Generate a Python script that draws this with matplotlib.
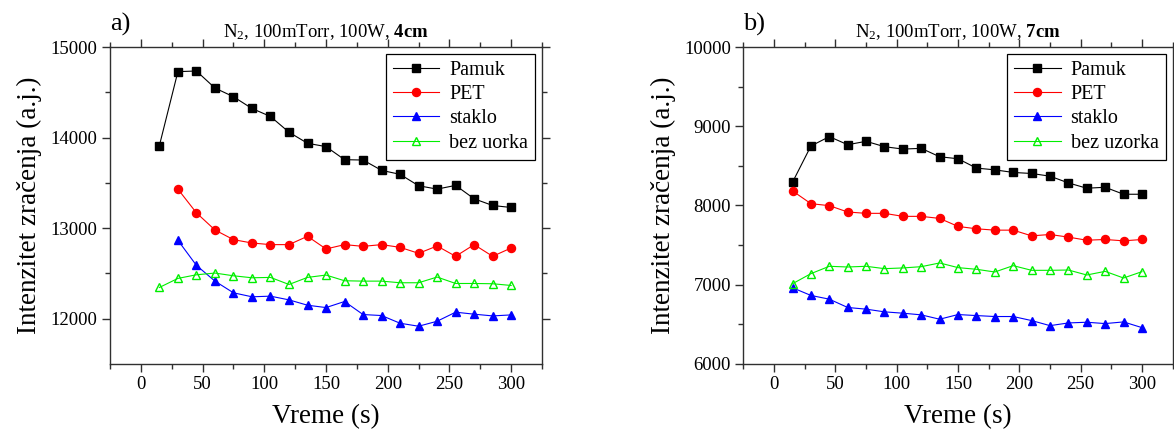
import matplotlib
matplotlib.use("Agg")
import matplotlib.pyplot as plt
from matplotlib.ticker import MultipleLocator

plt.rcParams['font.family'] = ['Liberation Serif', 'DejaVu Serif']
plt.rcParams['mathtext.fontset'] = 'custom'
plt.rcParams['mathtext.rm'] = 'Liberation Serif'
plt.rcParams['mathtext.it'] = 'Liberation Serif:italic'
plt.rcParams['mathtext.bf'] = 'Liberation Serif:bold'

# vreme (s)
t15 = [15, 30, 45, 60, 75, 90, 105, 120, 135, 150,
       165, 180, 195, 210, 225, 240, 255, 270, 285, 300]
t30 = t15[1:]

# a) 4cm
a_pamuk = [13911, 14728, 14735, 14547, 14451, 14321, 14233, 14059, 13937, 13900,
           13756, 13752, 13638, 13594, 13468, 13431, 13472, 13324, 13250, 13228]
a_pet = [13431, 13169, 12980, 12873, 12836, 12818, 12818, 12910, 12770, 12818,
         12799, 12818, 12788, 12722, 12803, 12689, 12818, 12689, 12781]
a_staklo = [12866, 12589, 12415, 12286, 12242, 12249, 12208, 12149, 12123, 12190,
            12046, 12035, 11950, 11917, 11972, 12072, 12050, 12031, 12042]
a_bez = [12345, 12445, 12485, 12504, 12474, 12452, 12456, 12378, 12456, 12482,
         12419, 12415, 12415, 12397, 12397, 12460, 12389, 12389, 12386, 12367]

# b) 7cm
b_pamuk = [8294, 8751, 8869, 8767, 8810, 8742, 8712, 8721, 8615, 8590,
           8472, 8450, 8417, 8404, 8370, 8285, 8218, 8230, 8142, 8142]
b_pet = [8184, 8023, 7998, 7918, 7901, 7901, 7863, 7863, 7837, 7736,
         7706, 7689, 7689, 7617, 7634, 7601, 7562, 7571, 7554, 7571]
b_staklo = [6962, 6865, 6818, 6713, 6692, 6658, 6641, 6620, 6565, 6624,
            6611, 6599, 6599, 6548, 6484, 6518, 6527, 6510, 6531, 6459]
b_bez = [7013, 7140, 7233, 7224, 7233, 7203, 7212, 7228, 7275, 7216,
         7195, 7161, 7241, 7182, 7182, 7186, 7123, 7169, 7085, 7165]

fig = plt.figure(figsize=(11.74, 4.34), dpi=100)
ax1 = fig.add_axes([0.0937, 0.1613, 0.368, 0.7304])
ax2 = fig.add_axes([0.6333, 0.1613, 0.3655, 0.7304])

spine_col = '#303030'


def style(ax, ylim, ymaj, ymin):
    ax.set_xlim(-25, 325)
    ax.set_ylim(*ylim)
    ax.xaxis.set_major_locator(MultipleLocator(50))
    ax.xaxis.set_minor_locator(MultipleLocator(25))
    ax.yaxis.set_major_locator(MultipleLocator(ymaj))
    ax.yaxis.set_minor_locator(MultipleLocator(ymin))
    ax.tick_params(which='both', direction='out', top=True, right=True,
                   color=spine_col, width=1.0, labelsize=13.5, pad=3)
    ax.tick_params(which='major', length=6)
    ax.tick_params(which='minor', length=3.5)
    for s in ax.spines.values():
        s.set_color(spine_col)
        s.set_linewidth(1.0)
    ax.set_xlabel('Vreme (s)', fontsize=19.5, labelpad=8)
    ax.set_ylabel('Intenzitet zračenja (a.j.)', fontsize=19.5, labelpad=6)


def series(ax, x, y, marker, color, label, mfc=None):
    ax.plot(x, y, marker=marker, color=color, lw=0.8, ms=5.8,
            mfc=mfc if mfc else color, mec=color, label=label)


series(ax1, t15, a_pamuk, 's', 'black', 'Pamuk')
series(ax1, t30, a_pet, 'o', '#ff0000', 'PET')
series(ax1, t30, a_staklo, '^', '#0000ff', 'staklo')
series(ax1, t15, a_bez, '^', '#00ee00', 'bez uorka', mfc='none')
style(ax1, (11500, 15000), 1000, 500)
ax1.set_yticks([12000, 13000, 14000, 15000])
ax1.set_yticks([12500, 13500, 14500], minor=True)

series(ax2, t15, b_pamuk, 's', 'black', 'Pamuk')
series(ax2, t15, b_pet, 'o', '#ff0000', 'PET')
series(ax2, t15, b_staklo, '^', '#0000ff', 'staklo')
series(ax2, t15, b_bez, '^', '#00ee00', 'bez uzorka', mfc='none')
style(ax2, (6000, 10000), 1000, 500)

for ax, lab, title in [(ax1, 'a)', r'N$_2$, 100mTorr, 100W, $\mathbf{4cm}$'),
                       (ax2, 'b)', r'N$_2$, 100mTorr, 100W, $\mathbf{7cm}$')]:
    leg = ax.legend(loc='upper right', fontsize=14.5, frameon=True, fancybox=False,
                    edgecolor='black', framealpha=1, handlelength=2.3,
                    borderpad=0.35, labelspacing=0.25, handletextpad=0.5,
                    borderaxespad=0.35)
    leg.get_frame().set_linewidth(0.9)
    ax.set_title(title, fontsize=13.5, pad=7)
    ax.text(0.0, 1.035, lab, transform=ax.transAxes, fontsize=19, ha='left', va='bottom')

fig.savefig('out.png', dpi=100)
